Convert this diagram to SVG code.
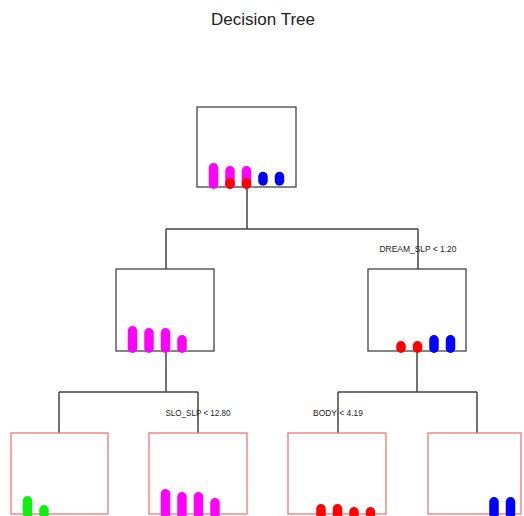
<svg xmlns="http://www.w3.org/2000/svg" width="524" height="516" viewBox="0 0 524 516">
  <style>
    .title { font-family: "Liberation Sans", Arial, sans-serif; font-size: 17px; fill: #222; text-anchor: middle; }
    .split { font-family: "Liberation Sans", Arial, sans-serif; font-size: 9px; fill: #222; text-anchor: middle; }
    .inner { fill: #fff; stroke: #444; stroke-width: 1.3; }
    .leaf { fill: #fff; stroke: #ee7777; stroke-width: 1.3; }
    .edge { fill: none; stroke: #444; stroke-width: 1.5; }
    .bar { stroke-width: 9.5; stroke-linecap: round; }
    .mag { stroke: #ff00ff; }
    .red { stroke: #ff0000; }
    .blu { stroke: #0000ff; }
    .grn { stroke: #11ee11; }
  </style>
  <rect width="524" height="516" fill="#fff"/>
  <text class="title" x="263" y="25">Decision Tree</text>

  <g id="connectors">
    <path class="edge" d="M247 187 V229 M166 229 H418 M166 229 V269 M418 229 V269"/>
    <path class="edge" d="M166 351 V392 M59 392 H198 M59 392 V433 M198 392 V433"/>
    <path class="edge" d="M417 351 V392 M338 392 H477 M338 392 V433 M477 392 V433"/>
    <text class="split" x="418" y="252" textLength="77" lengthAdjust="spacingAndGlyphs">DREAM_SLP &lt; 1.20</text>
    <text class="split" x="198" y="416" textLength="65" lengthAdjust="spacingAndGlyphs">SLO_SLP &lt; 12.80</text>
    <text class="split" x="338" y="416" textLength="50" lengthAdjust="spacingAndGlyphs">BODY &lt; 4.19</text>
  </g>

  <g id="node-root">
    <rect class="inner" x="197" y="107" width="99" height="80"/>
    <line class="bar mag" x1="213.5" y1="167.75" x2="213.5" y2="184.25"/>
    <line class="bar mag" x1="230" y1="170.75" x2="230" y2="184.25"/>
    <line class="bar red" x1="230" y1="182.75" x2="230" y2="184.25"/>
    <line class="bar mag" x1="246.5" y1="170.75" x2="246.5" y2="184.25"/>
    <line class="bar red" x1="246.5" y1="182.75" x2="246.5" y2="184.25"/>
    <line class="bar blu" x1="263" y1="176.5" x2="263" y2="181"/>
    <line class="bar blu" x1="279.5" y1="176.5" x2="279.5" y2="181"/>
  </g>

  <g id="node-left">
    <rect class="inner" x="116" y="269" width="98" height="82"/>
    <line class="bar mag" x1="132.5" y1="330.75" x2="132.5" y2="348.25"/>
    <line class="bar mag" x1="149" y1="332.75" x2="149" y2="348.25"/>
    <line class="bar mag" x1="165.5" y1="332.75" x2="165.5" y2="348.25"/>
    <line class="bar mag" x1="182" y1="339.75" x2="182" y2="348.25"/>
  </g>

  <g id="node-right">
    <rect class="inner" x="368" y="269" width="98" height="82"/>
    <line class="bar red" x1="401" y1="345.75" x2="401" y2="348.25"/>
    <line class="bar red" x1="417.5" y1="345.75" x2="417.5" y2="348.25"/>
    <line class="bar blu" x1="434" y1="339.75" x2="434" y2="348.25"/>
    <line class="bar blu" x1="450.5" y1="339.75" x2="450.5" y2="348.25"/>
  </g>

  <g id="leaf-1">
    <rect class="leaf" x="11" y="433" width="97" height="81"/>
    <line class="bar grn" x1="27.5" y1="500.75" x2="27.5" y2="514"/>
    <line class="bar grn" x1="44" y1="509.75" x2="44" y2="514"/>
  </g>

  <g id="leaf-2">
    <rect class="leaf" x="149" y="433" width="98" height="81"/>
    <line class="bar mag" x1="165.5" y1="493.75" x2="165.5" y2="514"/>
    <line class="bar mag" x1="182" y1="496.75" x2="182" y2="514"/>
    <line class="bar mag" x1="198.5" y1="496.75" x2="198.5" y2="514"/>
    <line class="bar mag" x1="215" y1="502.75" x2="215" y2="514"/>
  </g>

  <g id="leaf-3">
    <rect class="leaf" x="288" y="433" width="98" height="81"/>
    <line class="bar red" x1="321" y1="508.75" x2="321" y2="514"/>
    <line class="bar red" x1="337.5" y1="508.75" x2="337.5" y2="514"/>
    <line class="bar red" x1="354" y1="511.75" x2="354" y2="514"/>
    <line class="bar red" x1="370.5" y1="511.75" x2="370.5" y2="514"/>
  </g>

  <g id="leaf-4">
    <rect class="leaf" x="428" y="433" width="93" height="81"/>
    <line class="bar blu" x1="494" y1="501.75" x2="494" y2="514"/>
    <line class="bar blu" x1="510.5" y1="501.75" x2="510.5" y2="514"/>
  </g>
</svg>
